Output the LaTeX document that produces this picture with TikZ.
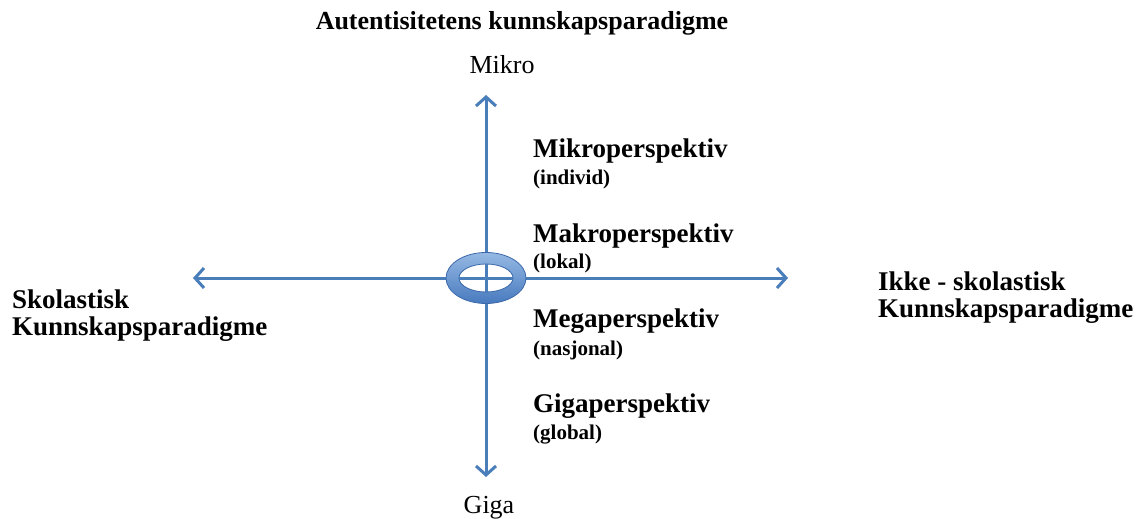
\documentclass[tikz,border=0pt]{standalone}
\usepackage{fontspec}
\setmainfont{Liberation Serif}
\usetikzlibrary{arrows.meta}
\definecolor{axisblue}{RGB}{74,126,187}
\definecolor{ringtop}{RGB}{150,185,228}
\definecolor{ringbot}{RGB}{72,122,190}
\definecolor{ringedge}{RGB}{60,105,170}
\tikzset{
  axis/.style={draw=axisblue, line width=3pt, -{Straight Barb[length=9pt,width=20pt,line width=3pt]}},
  heading/.style={inner sep=0pt, anchor=base, font=\fontsize{26}{26}\selectfont\bfseries},
  pole/.style={inner sep=0pt, anchor=base, font=\fontsize{26}{26}\selectfont},
  side/.style={inner sep=0pt, anchor=base west, font=\fontsize{27}{27}\selectfont\bfseries},
  persp/.style={inner sep=0pt, anchor=base west, font=\fontsize{27}{27}\selectfont\bfseries},
  scale label/.style={inner sep=0pt, anchor=base west, font=\fontsize{21}{21}\selectfont\bfseries},
}
\begin{document}
\begin{tikzpicture}[x=1pt,y=-1pt]
\useasboundingbox[fill=white] (0,0) rectangle (1140,519);

% axes from the centre
\coordinate (c) at (486,278);
\coordinate (up) at (486,95);
\coordinate (down) at (486,477);
\coordinate (west) at (193,278);
\coordinate (east) at (788,278);
\draw[axis] (c) -- (up);
\draw[axis] (c) -- (down);
\draw[axis] (c) -- (west);
\draw[axis] (c) -- (east);

% ring at the crossing
\shade[top color=ringtop, bottom color=ringbot, even odd rule]
  (c) ellipse [x radius=40, y radius=25.5]
  (c) ellipse [x radius=27, y radius=14];
\draw[ringedge, line width=0.8pt] (c) ellipse [x radius=40, y radius=25.5];
\draw[ringedge, line width=0.8pt] (c) ellipse [x radius=27, y radius=14];
\begin{scope}
  \clip (c) ellipse [x radius=27, y radius=14];
  \draw[axisblue, line width=3pt] (486,250) -- (486,306);
  \draw[axisblue, line width=3pt] (450,278) -- (522,278);
\end{scope}

% titles and pole labels
\node[heading] (title) at (522,30) {Autentisitetens kunnskapsparadigme};
\node[pole] (mikro) at (502,74) {Mikro};
\node[pole] (giga) at (489,513) {Giga};

% paradigms at the ends of the horizontal axis
\node[side] (skol1) at (12,308) {Skolastisk};
\node[side] (skol2) at (12,335) {Kunnskapsparadigme};
\node[side] (ikke1) at (878,290) {Ikke - skolastisk};
\node[side] (ikke2) at (878,317) {Kunnskapsparadigme};

% perspectives along the vertical axis
\node[persp] (p1) at (533,157) {Mikroperspektiv};
\node[scale label] (s1) at (533,184) {(individ)};
\node[persp] (p2) at (533,242) {Makroperspektiv};
\node[scale label] (s2) at (533,268) {(lokal)};
\node[persp] (p3) at (533,327) {Megaperspektiv};
\node[scale label] (s3) at (533,355) {(nasjonal)};
\node[persp] (p4) at (533,412) {Gigaperspektiv};
\node[scale label] (s4) at (533,439) {(global)};
\end{tikzpicture}
\end{document}
